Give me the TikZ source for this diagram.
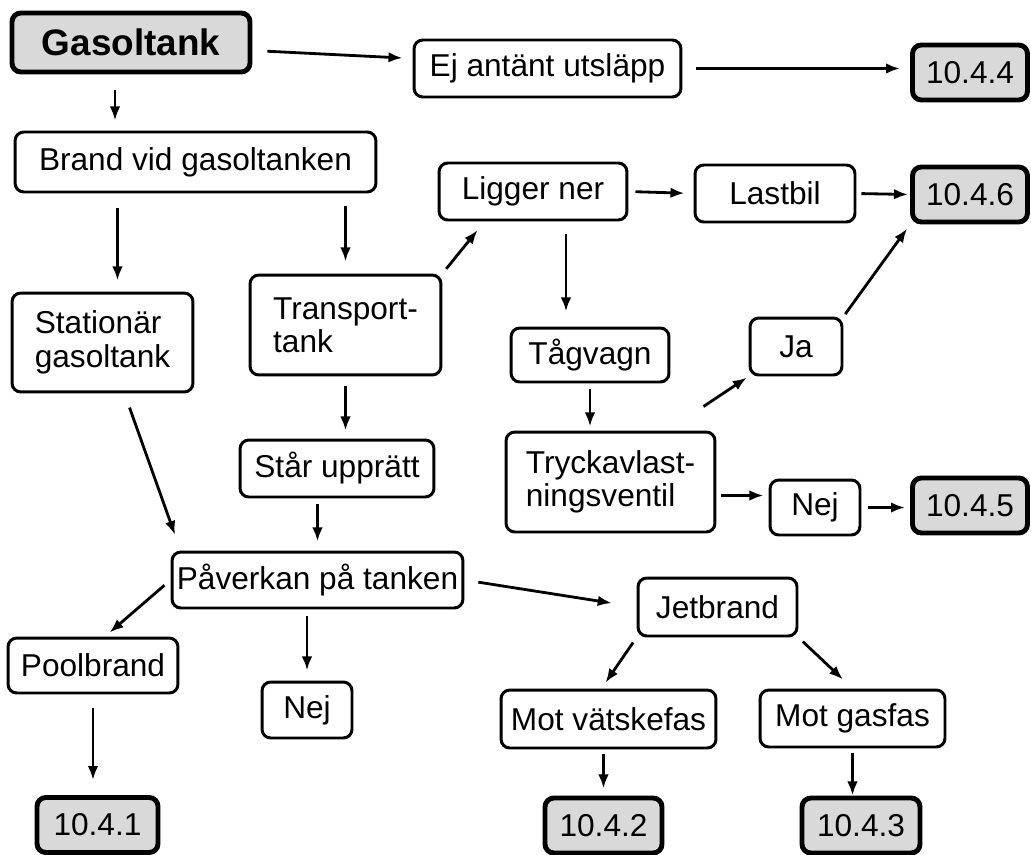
\documentclass[tikz,border=0pt]{standalone}
\usepackage{fontspec}
\setmainfont{Liberation Sans}
\usepackage{xcolor}
\usetikzlibrary{arrows.meta,positioning,calc}
\definecolor{stipple}{gray}{0.85}

\begin{document}
\begin{tikzpicture}[x=0.02cm,y=-0.02cm,
    box/.style={draw,line width=1.7pt,rounded corners=5pt,inner sep=2pt,
      font=\fontsize{18}{19}\selectfont},
    sect/.style={box,line width=2.8pt,fill=stipple},
    arr/.style={-{Latex[length=8pt,width=6pt]},line width=1.6pt}]
  \path[use as bounding box,fill=white] (0,0) rectangle (1031,855);

  % Top row
  \node[sect,minimum width=4.76cm,minimum height=1.18cm,
        font=\fontsize{21}{22}\selectfont\bfseries] (gasoltank) at (131,42.5) {Gasoltank};
  \node[box,minimum width=5.34cm,minimum height=1.14cm] (ej) at (547.5,68.5) {Ej antänt utsläpp};
  \node[sect,minimum width=2.3cm,minimum height=1.1cm] (s444) at (970,72.5) {10.4.4};
  \node[box,minimum width=7.22cm,minimum height=1.2cm] (brand) at (195.5,162) {Brand vid gasoltanken};
  \node[box,minimum width=3.76cm,minimum height=1.14cm] (ligger) at (533,191.5) {Ligger ner};
  \node[box,minimum width=3.2cm,minimum height=1.14cm] (lastbil) at (775,193.5) {Lastbil};
  \node[sect,minimum width=2.3cm,minimum height=1.1cm] (s446) at (970,194.5) {10.4.6};

  % Middle
  \node[box,align=left,minimum width=3.62cm,minimum height=1.98cm] (stationar) at (102.5,342.5) {Stationär\\gasoltank};
  \node[box,align=left,minimum width=3.82cm,minimum height=2cm] (transport) at (345.5,325) {Transport-\\tank};
  \node[box,minimum width=3.16cm,minimum height=1.08cm] (tagvagn) at (590,355) {Tågvagn};
  \node[box,minimum width=1.84cm,minimum height=1.14cm] (ja) at (796,346.5) {Ja};
  \node[box,minimum width=3.88cm,minimum height=1.14cm] (star) at (337,468.5) {Står upprätt};
  \node[box,align=left,minimum width=4.18cm,minimum height=2cm] (tryck) at (610.5,482) {Tryckavlast-\\ningsventil};
  \node[box,minimum width=1.8cm,minimum height=1.1cm] (nej1) at (815,507.5) {Nej};
  \node[sect,minimum width=2.3cm,minimum height=1.1cm] (s445) at (970,505.5) {10.4.5};

  % Bottom
  \node[box,minimum width=5.82cm,minimum height=1.12cm] (paverkan) at (317.5,580) {Påverkan på tanken};
  \node[box,minimum width=3.18cm,minimum height=1.16cm] (jetbrand) at (717.5,607) {Jetbrand};
  \node[box,minimum width=3.4cm,minimum height=1.1cm] (poolbrand) at (93,665.5) {Poolbrand};
  \node[box,minimum width=1.8cm,minimum height=1.12cm] (nej2) at (307,710) {Nej};
  \node[box,minimum width=4.3cm,minimum height=1.16cm] (vatske) at (608.5,719) {Mot vätskefas};
  \node[box,minimum width=3.7cm,minimum height=1.14cm] (gasfas) at (852.5,718.5) {Mot gasfas};
  \node[sect,minimum width=2.42cm,minimum height=1.1cm] (s441) at (97.5,825) {10.4.1};
  \node[sect,minimum width=2.34cm,minimum height=1.1cm] (s442) at (603.5,825.5) {10.4.2};
  \node[sect,minimum width=2.36cm,minimum height=1.1cm] (s443) at (861,825.5) {10.4.3};

  % Connectors
  \draw[arr,shorten <=0.3cm,shorten >=0.2cm] ($(gasoltank.east)+(0,8)$) -- ($(ej.west)+(0,-10)$);
  \draw[arr,shorten <=0.32cm,shorten >=0.2cm] ([xshift=-0.32cm]gasoltank.south) -- ([xshift=-0.32cm]gasoltank.south |- brand.north);
  \draw[arr,shorten <=0.28cm,shorten >=0.2cm] (ej.east) -- (ej.east -| s444.west);
  \draw[arr,shorten <=0.3cm,shorten >=0.22cm] ([xshift=0.3cm]stationar.north |- brand.south) -- ([xshift=0.3cm]stationar.north);
  \draw[arr,shorten <=0.26cm,shorten >=0.24cm] (transport.north |- brand.south) -- (transport.north);
  \draw[arr,shorten <=0.12cm,shorten >=0.22cm] (transport.north east) -- ($(ligger.south west)+(47,0)$);
  \draw[arr,shorten <=0.14cm,shorten >=0.18cm] (ligger.east) -- (lastbil.west);
  \draw[arr,shorten <=0.1cm,shorten >=0.04cm] (lastbil.east) -- (s446.west);
  \draw[arr,shorten <=0.26cm,shorten >=0.3cm] ([xshift=0.66cm]ligger.south) -- ([xshift=0.66cm]ligger.south |- tagvagn.north);
  \draw[arr,shorten <=0.06cm,shorten >=0.1cm] (ja.north east) -- (s446.south west);
  \draw[arr,shorten <=0.12cm,shorten >=0.08cm] (tagvagn.south) -- (tagvagn.south |- tryck.north);
  \draw[arr,shorten >=0.04cm] ($(tryck.north east)+(-13,-24)$) -- (ja.south west);
  \draw[arr,shorten <=0.1cm,shorten >=0.1cm] ([yshift=0.24cm]tryck.east |- nej1.west) -- ([yshift=0.24cm]nej1.west);
  \draw[arr,shorten <=0.14cm,shorten >=0.1cm] (nej1.east) -- (nej1.east -| s445.west);
  \draw[arr,shorten <=0.2cm,shorten >=0.16cm] (transport.south) -- (transport.south |- star.north);
  \draw[arr,shorten <=0.12cm,shorten >=0.18cm] (paverkan.north |- star.south) -- (paverkan.north);
  \draw[arr,shorten <=0.3cm,shorten >=0.33cm] ($(stationar.south)+(22,0)$) -- ($(paverkan.north west)+(10,0)$);
  \draw[arr,shorten <=0.16cm,shorten >=0.12cm] (paverkan.west) -- ($(poolbrand.north)+(12,0)$);
  \draw[arr,shorten <=0.14cm,shorten >=0.2cm] (nej2.north |- paverkan.south) -- (nej2.north);
  \draw[arr,shorten <=0.28cm,shorten >=0.5cm] (paverkan.east) -- (jetbrand.west);
  \draw[arr,shorten <=0.12cm,shorten >=0.14cm] (jetbrand.south west) -- ($(vatske.north)+(-7,0)$);
  \draw[arr,shorten <=0.12cm,shorten >=0.26cm] (jetbrand.south east) -- (gasfas.north);
  \draw[arr,shorten <=0.28cm,shorten >=0.3cm] (poolbrand.south) -- (poolbrand.south |- s441.north);
  \draw[arr,shorten <=0.1cm,shorten >=0.14cm] (s442.north |- vatske.south) -- (s442.north);
  \draw[arr,shorten <=0.1cm] (gasfas.south) -- (gasfas.south |- s443.north);
\end{tikzpicture}
\end{document}
